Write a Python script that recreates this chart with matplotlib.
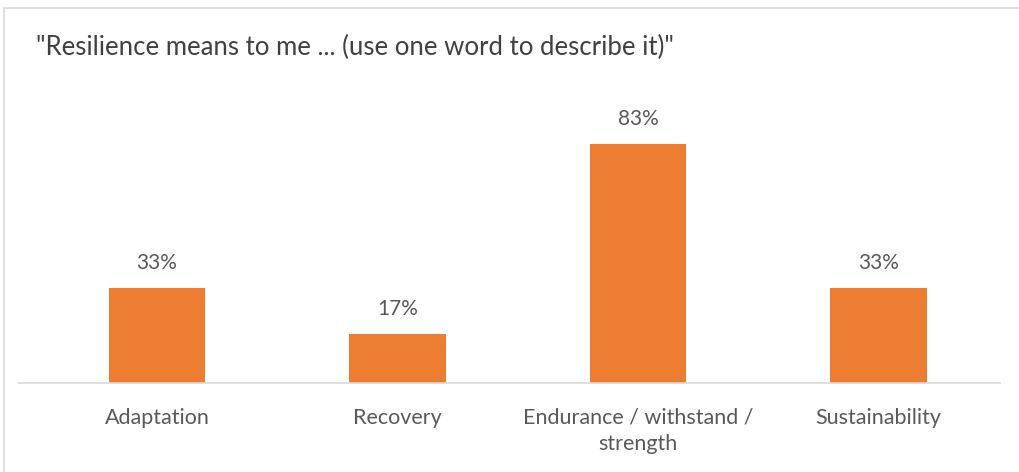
import matplotlib
matplotlib.use("Agg")
import matplotlib.pyplot as plt
from matplotlib.patches import Rectangle

categories = ["Adaptation", "Recovery", "Endurance / withstand /\nstrength", "Sustainability"]
values = [33, 17, 83, 33]
labels = ["33%", "17%", "83%", "33%"]
title = '"Resilience means to me ... (use one word to describe it)"'

W, H = 1019, 472
fig = plt.figure(figsize=(W / 100, H / 100), dpi=100)
plt.rcParams['font.family'] = ['Lato', 'DejaVu Sans']
FW = 'normal'

# outer border
fig.patches.append(Rectangle((4 / W, -0.1), 1.2, (H - 8) / H + 0.1, transform=fig.transFigure,
                             fill=False, edgecolor='#D9D9D9', linewidth=1.2))

x0, x1 = 19, 1000
ybot, ytop = 383, 95
ax = fig.add_axes([x0 / W, (H - ybot) / H, (x1 - x0) / W, (ybot - ytop) / H])
pos = list(range(len(categories)))
ax.bar(pos, values, width=0.4, color='#ED7D31')
ax.set_xlim(-0.574, 3.505)
ax.set_ylim(0, 100)
for p, v, l in zip(pos, values, labels):
    ax.annotate(l, (p, v), xytext=(0, 11), textcoords='offset points', ha='center', va='bottom',
                fontsize=15, color='#595959', fontweight=FW)
for s in ['top', 'right', 'left']:
    ax.spines[s].set_visible(False)
ax.spines['bottom'].set_color('#D9D9D9')
ax.spines['bottom'].set_linewidth(1.2)
ax.set_yticks([])
ax.set_xticks(pos)
ax.set_xticklabels(categories, fontsize=15.5, color='#595959', linespacing=1.4, fontweight=FW)
ax.tick_params(axis='x', length=0, pad=18)

fig.text(36 / W, 1 - 47 / H, title, fontsize=18.5, color='#404040', va='center', ha='left', fontweight=FW)

fig.savefig("out.png", dpi=100)
